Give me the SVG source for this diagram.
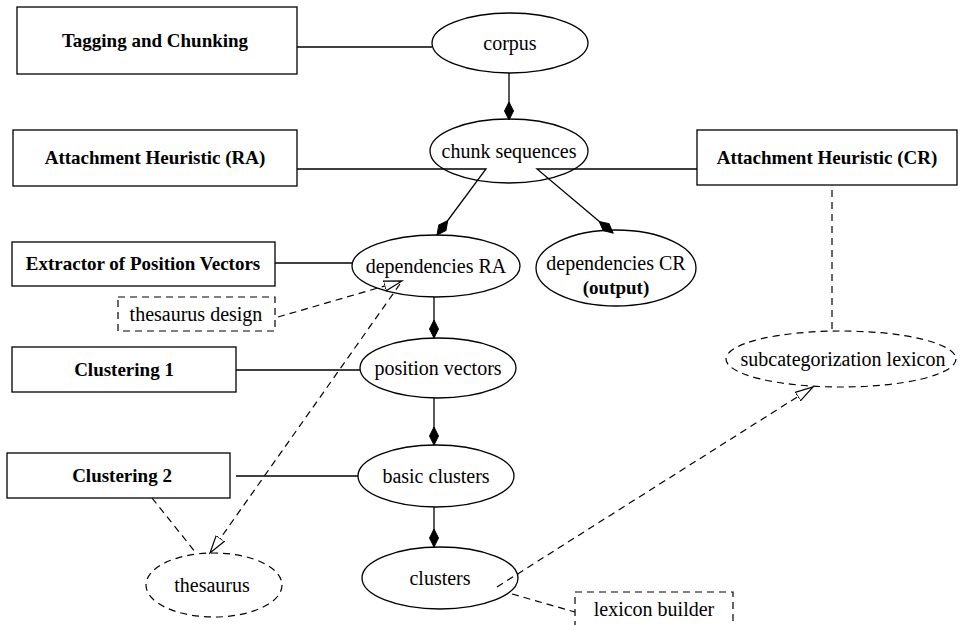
<svg xmlns="http://www.w3.org/2000/svg" width="962" height="625" viewBox="0 0 962 625">
<style>
.box{fill:#fff;stroke:#000;stroke-width:1.3}
.dbox{fill:#fff;stroke:#000;stroke-width:1.2;stroke-dasharray:7,5}
.ell{fill:#fff;stroke:#000;stroke-width:1.3}
.dell{fill:#fff;stroke:#000;stroke-width:1.2;stroke-dasharray:7,5}
.bt{font-family:"Liberation Serif",serif;font-weight:bold;font-size:19px;text-anchor:middle;fill:#000}
.nt{font-family:"Liberation Serif",serif;font-size:20px;text-anchor:middle;fill:#000}
.ln{fill:none;stroke:#000;stroke-width:1.3}
.dl{fill:none;stroke:#000;stroke-width:1.2;stroke-dasharray:7,5}
</style>
<defs>
<marker id="dia" markerUnits="userSpaceOnUse" markerWidth="20" markerHeight="12" viewBox="0 -6 20 12" refX="18" refY="0" orient="auto">
<path d="M0,0 L9,-4.5 L18,0 L9,4.5 Z" fill="#000" stroke="#000" stroke-width="1"/>
</marker>
<marker id="open" markerUnits="userSpaceOnUse" markerWidth="20" markerHeight="14" viewBox="0 -7 20 14" refX="18" refY="0" orient="auto">
<path d="M0,-5 L18,0 L0,5 Z" fill="#fff" stroke="#000" stroke-width="1.2"/>
</marker>
</defs>

<g id="tagging"><rect class="box" x="17" y="7" width="280" height="67"/><text class="bt" x="155" y="47">Tagging and Chunking</text></g>
<g id="corpus"><ellipse class="ell" cx="510" cy="43" rx="78" ry="30"/><text class="nt" x="510" y="50">corpus</text></g>
<g id="attRA"><rect class="box" x="13" y="130" width="284" height="56"/><text class="bt" x="155" y="164">Attachment Heuristic (RA)</text></g>
<g id="chunks"><ellipse class="ell" cx="509" cy="151" rx="79" ry="32"/><text class="nt" x="509" y="158">chunk sequences</text></g>
<g id="attCR"><rect class="box" x="697" y="130" width="260" height="55"/><text class="bt" x="827" y="164">Attachment Heuristic (CR)</text></g>
<g id="extractor"><rect class="box" x="12" y="242" width="263" height="44"/><text class="bt" x="143" y="270">Extractor of Position Vectors</text></g>
<g id="depRA"><ellipse class="ell" cx="436" cy="266" rx="84" ry="31"/><text class="nt" x="436" y="273">dependencies RA</text></g>
<g id="depCR"><ellipse class="ell" cx="616" cy="268" rx="80" ry="38"/><text class="nt" x="616" y="270">dependencies CR</text><text class="bt" x="616" y="294">(output)</text></g>
<g id="thesDesign"><rect class="dbox" x="118" y="297" width="157" height="34"/><text class="nt" x="196" y="321">thesaurus design</text></g>
<g id="clust1"><rect class="box" x="12" y="347" width="224" height="45"/><text class="bt" x="124" y="376">Clustering 1</text></g>
<g id="posvec"><ellipse class="ell" cx="438" cy="368" rx="78" ry="30"/><text class="nt" x="438" y="375">position vectors</text></g>
<g id="subcat"><ellipse class="dell" cx="841" cy="359" rx="115" ry="28"/><text class="nt" x="843" y="366">subcategorization lexicon</text></g>
<g id="clust2"><rect class="box" x="7" y="453" width="223" height="45"/><text class="bt" x="122" y="482">Clustering 2</text></g>
<g id="basic"><ellipse class="ell" cx="436" cy="476" rx="78" ry="31"/><text class="nt" x="436" y="483">basic clusters</text></g>
<g id="clusters"><ellipse class="ell" cx="440" cy="578" rx="78" ry="31"/><text class="nt" x="440" y="585">clusters</text></g>
<g id="thesaurus"><ellipse class="dell" cx="214" cy="585" rx="68" ry="32"/><text class="nt" x="212" y="592">thesaurus</text></g>
<g id="lexBuilder"><rect class="dbox" x="575" y="592" width="158" height="40"/><text class="nt" x="654" y="616">lexicon builder</text></g>

<g id="connectors">
<path class="ln" d="M297,47 L432,47"/>
<path class="ln" d="M509,73 L509,120" marker-end="url(#dia)"/>
<path class="ln" d="M297,169 L486,169 L437,235" marker-end="url(#dia)"/>
<path class="ln" d="M697,169 L537,169 L613,233" marker-end="url(#dia)"/>
<path class="ln" d="M275,263 L352,263"/>
<path class="ln" d="M434,297 L434,338" marker-end="url(#dia)"/>
<path class="ln" d="M236,370 L360,370"/>
<path class="ln" d="M434,398 L434,445" marker-end="url(#dia)"/>
<path class="ln" d="M236,476 L358,476"/>
<path class="ln" d="M434,507 L434,547" marker-end="url(#dia)"/>
<path class="dl" d="M278,317 L402,281" marker-end="url(#open)"/>
<path class="dl" d="M400,284 L210,553" marker-end="url(#open)"/>
<path class="dl" d="M152,498 L196,553"/>
<path class="dl" d="M832,190 L832,331"/>
<path class="dl" d="M497,587 L813,387" marker-end="url(#open)"/>
<path class="dl" d="M512,594 L575,612"/>
</g>
</svg>
